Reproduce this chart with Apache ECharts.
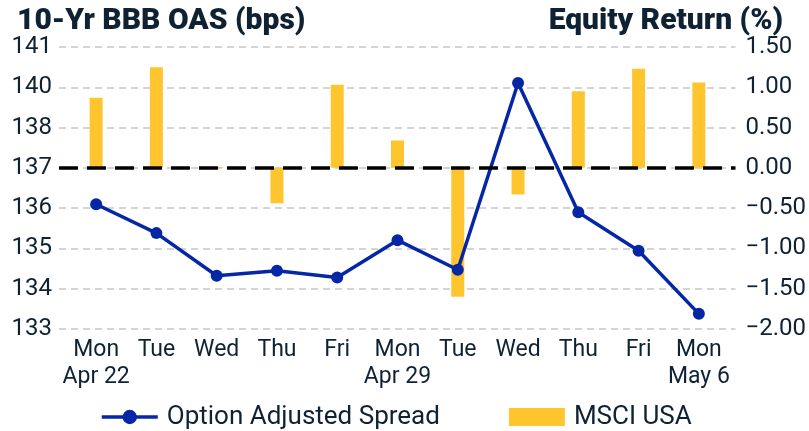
<!DOCTYPE html>
<html>
<head>
<meta charset="utf-8">
<script src="https://cdn.jsdelivr.net/npm/echarts@6/dist/echarts.min.js"></script>
<style>html,body{margin:0;padding:0;background:#fff}#c{width:809px;height:431px}</style>
</head>
<body>
<div id="c"></div>
<script>
const categories = ['Mon\nApr 22','Tue','Wed','Thu','Fri','Mon\nApr 29','Tue','Wed','Thu','Fri','Mon\nMay 6'];
const oasValues = [136.54, 135.72, 134.51, 134.65, 134.46, 135.52, 134.68, 139.98, 136.31, 135.22, 133.43];
const equityValues = [0.87, 1.25, 0.01, -0.44, 1.03, 0.34, -1.60, -0.33, 0.95, 1.23, 1.06];
const leftTickLabels = ['133','134','135','136','137','138','140','141'];
const rightTickLabels = ['−2.00','−1.50','−1.00','−0.50','0.00','0.50','1.00','1.50'];

const TXT = '#0f2233';
const FONT = 'Roboto';
const chart = echarts.init(document.getElementById('c'), null, {renderer:'canvas'});
chart.setOption({
  animation: false,
  textStyle: {fontFamily: FONT, color: TXT},
  title: [
    {text: '10-Yr BBB OAS (bps)', left: 12, top: 1, textStyle: {fontFamily: FONT, fontSize: 30, fontWeight: 900, color: TXT}},
    {text: 'Equity Return (%)', right: 21, top: 1, textStyle: {fontFamily: FONT, fontSize: 30, fontWeight: 900, color: TXT}}
  ],
  grid: [
    {left: 59, right: 73, top: 47, bottom: 102},
    {left: 66, right: 80, top: 47, bottom: 102}
  ],
  xAxis: [
    {gridIndex: 0, type: 'value', min: 0, max: 1, show: false},
    {gridIndex: 1, type: 'category', data: categories,
     axisLine: {show: false}, axisTick: {show: false},
     axisLabel: {fontSize: 23, color: TXT, fontFamily: FONT, margin: 8, lineHeight: 27, interval: 0}}
  ],
  yAxis: [
    {gridIndex: 0, position: 'left', type: 'value', min: -2, max: 1.5, interval: 0.5,
     axisLine: {show: false}, axisTick: {show: false},
     axisLabel: {fontSize: 24, color: TXT, fontFamily: FONT, margin: 7,
       formatter: (v, i) => leftTickLabels[Math.round((v + 2) / 0.5)]},
     splitLine: {show: true, lineStyle: {color: '#d4d4d4', width: 2, type: [7, 5]}}},
    {gridIndex: 0, position: 'right', type: 'value', min: -2, max: 1.5, interval: 0.5,
     axisLine: {show: false}, axisTick: {show: false},
     axisLabel: {fontSize: 24, color: TXT, fontFamily: FONT, margin: 10,
       formatter: (v, i) => rightTickLabels[Math.round((v + 2) / 0.5)]},
     splitLine: {show: false}},
    {gridIndex: 1, type: 'value', min: 133, max: 141, show: false},
    {gridIndex: 1, type: 'value', min: -2, max: 1.5, show: false}
  ],
  legend: {
    left: 100, top: 404, padding: 0, itemWidth: 56, itemHeight: 18, itemGap: 69,
    textStyle: {fontSize: 26, color: TXT, fontFamily: FONT, padding: [0, 0, 0, 4]},
    data: [{name: 'Option Adjusted Spread', lineStyle: {width: 3.5, color: '#0527A5'}},
           {name: 'MSCI USA', icon: 'rect'}]
  },
  series: [
    {name: 'MSCI USA', type: 'bar', xAxisIndex: 1, yAxisIndex: 3, data: equityValues,
     barWidth: 13, itemStyle: {color: '#FFC52F'}, z: 2},
    {name: 'zero', type: 'line', xAxisIndex: 0, yAxisIndex: 1, data: [[0, 0], [1, 0]],
     symbol: 'none', lineStyle: {width: 0, opacity: 0}, silent: true, z: 3,
     markLine: {silent: true, symbol: 'none', label: {show: false},
       lineStyle: {color: '#000', width: 3.5, type: [19, 9]}, data: [{yAxis: 0}]}},
    {name: 'Option Adjusted Spread', type: 'line', xAxisIndex: 1, yAxisIndex: 2, data: oasValues,
     symbol: 'circle', symbolSize: 12, lineStyle: {color: '#0527A5', width: 3.5},
     itemStyle: {color: '#0527A5'}, z: 4}
  ]
});
</script>
</body>
</html>
